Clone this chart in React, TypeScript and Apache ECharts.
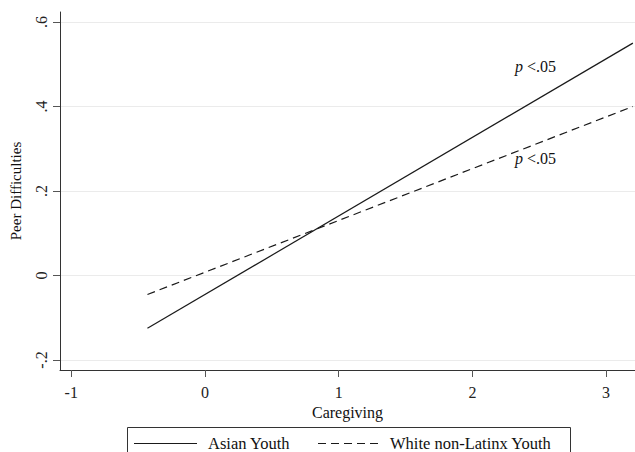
import React, { useEffect, useRef } from "react";
import * as echarts from "echarts";

const xRange = [-0.43, 3.2];
const asianValues = [-0.125, 0.55];
const whiteValues = [-0.045, 0.4];
const xTicks = [-1, 0, 1, 2, 3];
const yTicks = [-0.2, 0, 0.2, 0.4, 0.6];
const yTickLabels = ["-.2", "0", ".2", ".4", ".6"];
const seriesNames = ["Asian Youth", "White non-Latinx Youth"];
const annotations = ["p <.05", "p <.05"];

const FONT = "Liberation Serif";

export default function App() {
  const ref = useRef<HTMLDivElement>(null);
  useEffect(() => {
    document.body.style.margin = "0";
    const chart = echarts.init(ref.current!, undefined, { renderer: "svg" });
    const lineColor = "#1a1a1a";
    const legendY = 443.5;
    const annText = (s: string) => {
      const [p, rest] = [s.slice(0, 1), s.slice(1)];
      return `{i|${p}}${rest}`;
    };
    chart.setOption({
      animation: false,
      backgroundColor: "#ffffff",
      textStyle: { fontFamily: FONT },
      grid: { left: 57, top: 12, right: 0, bottom: 82 },
      xAxis: {
        type: "value",
        min: -1.084,
        max: 3.216,
        name: "Caregiving",
        nameLocation: "middle",
        nameGap: 29,
        nameTextStyle: { fontFamily: FONT, fontSize: 16, color: "#111" },
        axisLine: { show: true, onZero: false, lineStyle: { color: "#333", width: 1 } },
        axisTick: { show: true, length: 7, customValues: xTicks, lineStyle: { color: "#555" } },
        axisLabel: { customValues: xTicks, margin: 14, fontFamily: FONT, fontSize: 16, color: "#222" },
        splitLine: { show: false },
      },
      yAxis: {
        type: "value",
        min: -0.2237,
        max: 0.6237,
        name: "Peer Difficulties",
        nameLocation: "middle",
        nameGap: 37,
        nameTextStyle: { fontFamily: FONT, fontSize: 15, color: "#111" },
        axisLine: { show: true, onZero: false, lineStyle: { color: "#333", width: 1 } },
        axisTick: { show: true, length: 7, customValues: yTicks, lineStyle: { color: "#555" } },
        axisLabel: {
          customValues: yTicks,
          rotate: 90,
          margin: 11,
          fontFamily: FONT,
          fontSize: 16,
          color: "#222",
          formatter: (v: number) => {
            const i = yTicks.findIndex((t) => Math.abs(t - v) < 1e-6);
            return i >= 0 ? yTickLabels[i] : "";
          },
        },
        splitLine: { show: true, lineStyle: { color: "#ebebeb", width: 1 } },
      },
      graphic: [
        {
          type: "text",
          left: 515,
          top: 58,
          style: {
            text: annText(annotations[0]),
            font: `16px ${FONT}`,
            fill: "#111",
            rich: { i: { fontStyle: "italic", fontSize: 16, fontFamily: FONT, fill: "#111" } },
          },
        },
        {
          type: "text",
          left: 515,
          top: 150,
          style: {
            text: annText(annotations[1]),
            font: `16px ${FONT}`,
            fill: "#111",
            rich: { i: { fontStyle: "italic", fontSize: 16, fontFamily: FONT, fill: "#111" } },
          },
        },
        {
          type: "rect",
          shape: { x: 127.5, y: 427.5, width: 443, height: 40 },
          style: { fill: "none", stroke: "#333", lineWidth: 1 },
        },
        {
          type: "line",
          shape: { x1: 134, y1: legendY, x2: 197, y2: legendY },
          style: { stroke: lineColor, lineWidth: 1.2 },
        },
        {
          type: "text",
          x: 208,
          y: legendY,
          style: {
            text: seriesNames[0],
            font: `16.5px ${FONT}`,
            fill: "#111",
            verticalAlign: "middle",
          },
        },
        {
          type: "line",
          shape: { x1: 318, y1: legendY, x2: 382, y2: legendY },
          style: { stroke: lineColor, lineWidth: 1.2, lineDash: [8, 5] },
        },
        {
          type: "text",
          x: 390,
          y: legendY,
          style: {
            text: seriesNames[1],
            font: `16.5px ${FONT}`,
            fill: "#111",
            verticalAlign: "middle",
          },
        },
      ],
      series: [
        {
          name: seriesNames[0],
          type: "line",
          symbol: "none",
          data: xRange.map((x, i) => [x, asianValues[i]]),
          lineStyle: { color: lineColor, width: 1.2, type: "solid" },
          itemStyle: { color: lineColor },
        },
        {
          name: seriesNames[1],
          type: "line",
          symbol: "none",
          data: xRange.map((x, i) => [x, whiteValues[i]]),
          lineStyle: { color: lineColor, width: 1.2, type: [8, 5] },
          itemStyle: { color: lineColor },
        },
      ],
    });
    return () => chart.dispose();
  }, []);
  return <div ref={ref} style={{ width: 635, height: 452 }} />;
}
